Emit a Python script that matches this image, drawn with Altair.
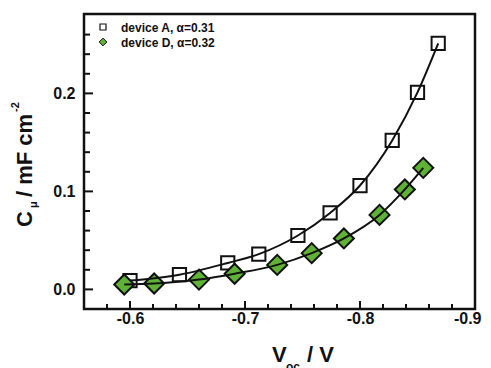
import altair as alt
import pandas as pd

# ---- data ----
devA_v = [-0.600, -0.643, -0.685, -0.712, -0.746, -0.774, -0.800, -0.828, -0.850, -0.868]
devA_c = [0.009, 0.015, 0.027, 0.036, 0.055, 0.078, 0.106, 0.152, 0.201, 0.251]
devD_v = [-0.595, -0.621, -0.660, -0.691, -0.728, -0.758, -0.786, -0.817, -0.839, -0.855]
devD_c = [0.005, 0.006, 0.010, 0.016, 0.025, 0.037, 0.052, 0.076, 0.102, 0.124]

x_major = [-0.6, -0.7, -0.8, -0.9]
x_minor = [-0.58, -0.62, -0.64, -0.66, -0.68, -0.72, -0.74, -0.76, -0.78,
           -0.82, -0.84, -0.86, -0.88]
y_major = [0.0, 0.1, 0.2]
y_minor = [0.02, 0.04, 0.06, 0.08, 0.12, 0.14, 0.16, 0.18, 0.22, 0.24, 0.26]

legend_labels = ["device A, \u03b1=0.31", "device D, \u03b1=0.32"]

dfA = pd.DataFrame({"v": devA_v, "c": devA_c})
dfD = pd.DataFrame({"v": devD_v, "c": devD_c})
dfxM = pd.DataFrame({"v": x_major})
dfxm = pd.DataFrame({"v": x_minor})
dfyM = pd.DataFrame({"c": y_major})
dfym = pd.DataFrame({"c": y_minor})
one = dfA.head(1)

W, H = 391, 295
FONT = "Liberation Sans"
GREEN = "#5fb236"
INK = "#111111"

xs = alt.Scale(domain=[-0.9, -0.56], reverse=True, nice=False, zero=False)
ys = alt.Scale(domain=[-0.02, 0.281], nice=False, zero=False)

xa = alt.Axis(values=x_major, title=None, ticks=False, domain=False, grid=False,
              labelExpr="datum.value < 0 ? '-' + format(-datum.value, '.1f') : format(datum.value, '.1f')",
              labelFont=FONT, labelFontWeight="bold", labelFontSize=16,
              labelColor=INK, labelPadding=1, labelFlush=True, labelFlushOffset=6,
              labelOverlap=False)
ya = alt.Axis(values=y_major, title=None, ticks=False, domain=False, grid=False,
              format=".1f", labelFont=FONT, labelFontWeight="bold", labelFontSize=16,
              labelColor=INK, labelPadding=9, labelFlush=False, labelOverlap=False)

X = lambda: alt.X("v:Q", scale=xs, axis=xa)
Y = lambda: alt.Y("c:Q", scale=ys, axis=ya)

# plot frame
frame = alt.Chart(one).mark_rect(fill="transparent", stroke=INK, strokeWidth=2.5).encode(
    x=alt.value(0), x2=alt.value(W), y=alt.value(0), y2=alt.value(H))

# inward ticks
xtM = alt.Chart(dfxM).mark_rule(color=INK, strokeWidth=2).encode(
    x=X(), y=alt.value(H), y2=alt.value(H - 8))
xtm = alt.Chart(dfxm).mark_rule(color=INK, strokeWidth=2).encode(
    x=X(), y=alt.value(H), y2=alt.value(H - 5))
ytM = alt.Chart(dfyM).mark_rule(color=INK, strokeWidth=2).encode(
    y=Y(), x=alt.value(0), x2=alt.value(9))
ytm = alt.Chart(dfym).mark_rule(color=INK, strokeWidth=2).encode(
    y=Y(), x=alt.value(0), x2=alt.value(6))

ptsA = alt.Chart(dfA).mark_point(shape="square", size=175, filled=False,
                                 stroke=INK, strokeWidth=2, opacity=1).encode(x=X(), y=Y())
ptsD = alt.Chart(dfD).mark_point(shape="diamond", size=400, filled=True, fill=GREEN,
                                 stroke=INK, strokeWidth=2, opacity=1).encode(x=X(), y=Y())
lineA = alt.Chart(dfA).mark_line(color=INK, strokeWidth=2, interpolate="monotone").encode(x=X(), y=Y())
lineD = alt.Chart(dfD).mark_line(color=INK, strokeWidth=2, interpolate="monotone").encode(x=X(), y=Y())

# legend (manual)
legA_sym = alt.Chart(one).mark_point(shape="square", size=36, filled=False, stroke=INK,
                                     strokeWidth=1.2, opacity=1).encode(x=alt.value(19), y=alt.value(13))
legD_sym = alt.Chart(one).mark_point(shape="diamond", size=60, filled=True, fill=GREEN, stroke=INK,
                                     strokeWidth=1, opacity=1).encode(x=alt.value(19), y=alt.value(28))
txt = dict(font=FONT, fontWeight="bold", color=INK, align="left", baseline="alphabetic")
legA_txt = alt.Chart(one).mark_text(text=legend_labels[0], fontSize=12, **txt).encode(
    x=alt.value(37), y=alt.value(17.5))
legD_txt = alt.Chart(one).mark_text(text=legend_labels[1], fontSize=12, **txt).encode(
    x=alt.value(37), y=alt.value(33))

# axis titles (with sub/superscripts)
xt1 = alt.Chart(one).mark_text(text="V", fontSize=22, **txt).encode(x=alt.value(188), y=alt.value(348))
xt2 = alt.Chart(one).mark_text(text="oc", fontSize=12, **txt).encode(x=alt.value(202), y=alt.value(357))
xt3 = alt.Chart(one).mark_text(text="/ V", fontSize=22, **txt).encode(x=alt.value(223), y=alt.value(348))

yt1 = alt.Chart(one).mark_text(text="C", fontSize=22, angle=270, **txt).encode(x=alt.value(-52), y=alt.value(213))
yt2 = alt.Chart(one).mark_text(text="\u03bc", fontSize=11, angle=270, **txt).encode(x=alt.value(-47), y=alt.value(194))
yt3 = alt.Chart(one).mark_text(text="/ mF cm", fontSize=22, angle=270, **txt).encode(x=alt.value(-52), y=alt.value(183))
yt4 = alt.Chart(one).mark_text(text="-2", fontSize=11, angle=270, **txt).encode(x=alt.value(-65), y=alt.value(98))

chart = alt.layer(
    frame, xtM, xtm, ytM, ytm, ptsA, ptsD, lineA, lineD,
    legA_sym, legD_sym, legA_txt, legD_txt,
    xt1, xt2, xt3, yt1, yt2, yt3, yt4,
).properties(
    width=W, height=H,
    autosize=alt.AutoSizeParams(type="none"),
    padding={"left": 76, "top": 6, "right": 8, "bottom": 59},
    background="white",
).configure_view(stroke=INK, strokeWidth=2)

chart.save("out.html", embed_options={"renderer": "svg", "actions": False})
